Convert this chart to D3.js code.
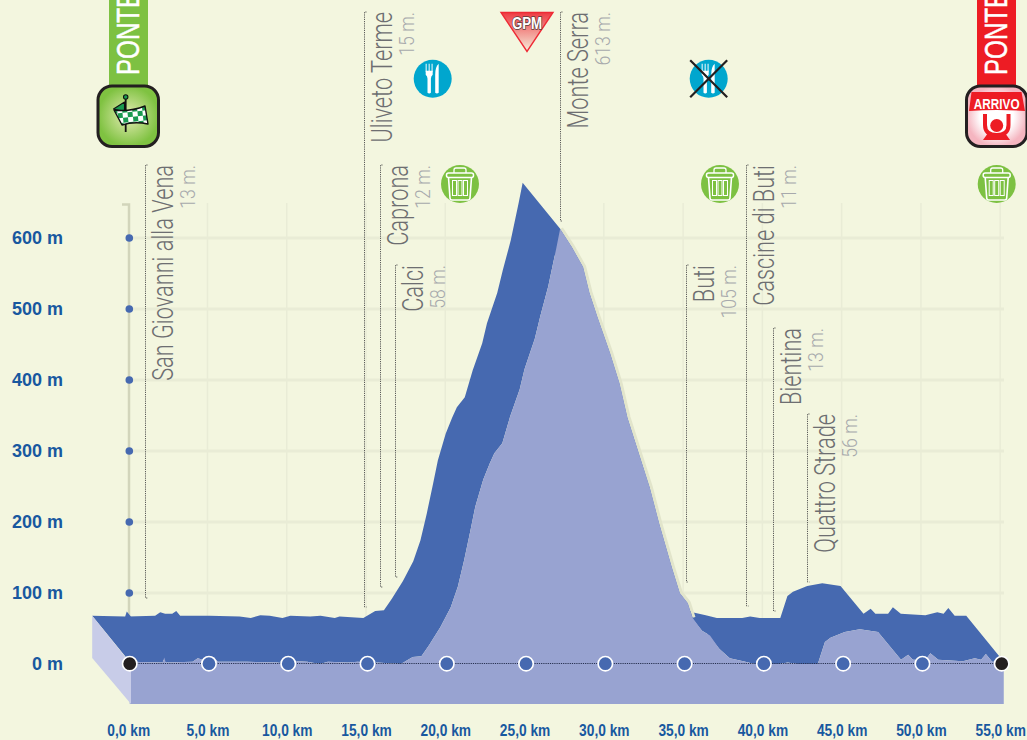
<!DOCTYPE html>
<html>
<head>
<meta charset="utf-8">
<script src="https://d3js.org/d3.v7.min.js"></script>
<style>
html,body{margin:0;padding:0;background:#f3f6df;overflow:hidden}
svg{display:block}
</style>
</head>
<body>
<div id="my_dataviz"></div>
<script>
// profile readings
var kmValues = [0,2.08,2.18,2.27,3.97,4.29,4.6,5.05,5.3,5.55,7.4,9.3,10,10.6,11.2,12,12.5,13.75,14.4,15.3,15.6,17.1,17.85,18.4,18.9,19.6,20.25,20.7,21.1,21.5,21.8,22.3,22.7,23,23.5,24,24.6,24.9,25.55,25.9,26.4,26.9,27.15,27.9,28.6,29,29.5,30.3,30.9,31.4,32.2,32.8,33.4,34.2,34.7,35.2,35.5,36.1,36.6,37.2,37.85,38.7,39.4,41,41.5,42.1,43.4,43.85,44.2,45.1,46.05,47.2,48.65,49.1,49.4,50.2,50.5,51,52.55,53.3,53.7,54,54.4,55,55.13];
var elevation = [3,2,9,2,3,8,6,6,10,3,3,2,0,4,3,0,3,2,3,0,2,0,10,11,27,52,80,109,147,189,222,260,282,297,311,349,387,415,458,490,532,585,613,587,559,523,489,438,395,347,291,249,198,136,100,86,65,47,40,21,8,4,0,0,2,0,0,31,37,45,49,45,6,13,6,6,15,6,4,8,6,14,3,3,3];

var kmTicks = [0,5,10,15,20,25,30,35,40,45,50,55];
var altTicks = [0,100,200,300,400,500,600];

var placeNames = ["San Giovanni alla Vena","Uliveto Terme","Caprona","Calci","Monte Serra","Buti","Cascine di Buti","Bientina","Quattro Strade"];
var placeAlts = ["13 m.","15 m.","12 m.","58 m.","613 m.","105 m.","11 m.","13 m.","56 m."];
var placeKm = [0.97,14.79,15.8,16.75,27.15,35.1,38.87,40.55,42.75];
var placeTop = [165,12,165,265,12,265,165,328,414];
var placeBottom = [598,607,587,577,221,582,606,611,582];

var width = 1027, height = 740;
var DARK = "#4669b0", LIGHT = "#98a3d1", SIDE = "#c8cce8", GRID = "#e9ecd6", BLUE = "#18589f";
var backDx = -37.5, backDy = -46, baseY = 704;

var x = d3.scaleLinear().domain([0,55]).range([129.7,1001.7]);
var y = d3.scaleLinear().domain([0,600]).range([664,238]);

var svg = d3.select("#my_dataviz").append("svg").attr("width", width).attr("height", height);
svg.append("rect").attr("width", width).attr("height", height).attr("fill", "#f3f6df");
var defs = svg.append("defs");

// grid
svg.append("g").selectAll("line").data(altTicks.slice(1)).enter().append("line")
    .attr("x1", x(0)).attr("x2", 1004)
    .attr("y1", function(d){return y(d)}).attr("y2", function(d){return y(d)})
    .attr("stroke", GRID).attr("stroke-width", 3);
svg.append("g").selectAll("line").data(kmTicks.slice(1)).enter().append("line")
    .attr("x1", function(d){return x(d)-1.5}).attr("x2", function(d){return x(d)-1.5})
    .attr("y1", 203).attr("y2", y(0))
    .attr("stroke", GRID).attr("stroke-width", 1.5);

// y axis stem
svg.append("path").attr("d", "M122,204.5H129V620").attr("fill", "none").attr("stroke", "#d2d5bb").attr("stroke-width", 2.5);
svg.append("g").selectAll("circle").data(altTicks.slice(1)).enter().append("circle")
    .attr("cx", 129.3).attr("cy", function(d){return y(d)}).attr("r", 3.8).attr("fill", DARK);

// leaders
var leaders = svg.append("g");
placeNames.forEach(function(name, i){
    var lx = Math.round(x(placeKm[i]))+0.5;
    leaders.append("path")
        .attr("d", "M"+(lx+2)+","+placeTop[i]+"H"+lx+"V"+placeBottom[i]+"H"+(lx+2))
        .attr("fill", "none").attr("stroke", "#4a4a4a").attr("stroke-width", 0.9).attr("stroke-dasharray", "1.2 1");
    leaders.append("text").text(name)
        .attr("transform", "translate("+(lx+27)+","+placeTop[i]+") rotate(-90) scale(0.75,1)")
        .attr("text-anchor", "end").attr("font-family", "Roboto").attr("font-weight", 300)
        .attr("font-size", 29).attr("fill", "#6d6e71");
    leaders.append("text").text(placeAlts[i])
        .attr("transform", "translate("+(lx+49.5)+","+placeTop[i]+") rotate(-90) scale(0.84,1)")
        .attr("text-anchor", "end").attr("font-family", "Roboto").attr("font-weight", 300)
        .attr("font-size", 21).attr("fill", "#a7a9ac");
});

// profile: extruded top face, all quads in one path so no seams show
var points = kmValues.map(function(k,i){return [x(k), y(elevation[i])]});
var topFace = d3.pairs(points).map(function(d){
    var quad = [d[0], d[1], [d[1][0]+backDx, d[1][1]+backDy], [d[0][0]+backDx, d[0][1]+backDy]];
    if(d3.polygonArea(quad)<0) quad.reverse();
    return d3.line()(quad)+"Z";
}).join("");
svg.append("path").attr("d", topFace).attr("fill", DARK);

// pale rim on the descent
var descent = points.filter(function(p,i){return kmValues[i]>=27.15 && kmValues[i]<=35.5});
svg.append("path").attr("d", d3.line()(descent)).attr("transform", "translate(1.5,-0.5)")
    .attr("fill", "none").attr("stroke", "#e2e5cb").attr("stroke-width", 3);

// front and side faces
var frontArea = d3.area().x(function(d){return d[0]}).y0(baseY).y1(function(d){return d[1]});
svg.append("path").attr("d", frontArea(points)).attr("fill", LIGHT);
var sideTop = points[0];
svg.append("path")
    .attr("d", d3.line()([[sideTop[0]+1.3,y(0)],[sideTop[0]+backDx,sideTop[1]+backDy],[sideTop[0]+backDx,baseY+backDy],[sideTop[0]+1.3,baseY]])+"Z")
    .attr("fill", SIDE);

// zero line and km markers
svg.append("line").attr("x1", x(0)).attr("x2", x(55)).attr("y1", y(0)-0.5).attr("y2", y(0)-0.5)
    .attr("stroke", "#27304f").attr("stroke-width", 1).attr("stroke-dasharray", "1.2 1");
svg.append("g").selectAll("circle").data(kmTicks).enter().append("circle")
    .attr("cx", function(d){return x(d)}).attr("cy", y(0)-0.3).attr("r", 7.2)
    .attr("fill", function(d){return (d==0||d==55) ? "#231f20" : DARK})
    .attr("stroke", "#fff").attr("stroke-width", 1.6);

// axes
var axisX = svg.append("g").attr("transform", "translate(-1.5,721)")
    .call(d3.axisBottom(x).tickValues(kmTicks).tickSize(0).tickFormat(function(d){return d+",0 km"}));
axisX.select(".domain").remove();
axisX.selectAll("text").attr("y", 0).attr("dy", "0.95em").attr("font-family", "Liberation Sans").attr("font-weight", 700)
    .attr("font-size", 16).attr("fill", BLUE).attr("transform", "scale(0.86,1)");

var axisY = svg.append("g").attr("transform", "translate(63,0)")
    .call(d3.axisLeft(y).tickValues(altTicks).tickSize(0).tickFormat(function(d){return d+" m"}));
axisY.select(".domain").remove();
axisY.selectAll("text").attr("x", 0).attr("font-family", "Liberation Sans").attr("font-weight", 700)
    .attr("font-size", 18).attr("fill", BLUE);

// start and finish banners
function banner(bx, color){
    svg.append("rect").attr("x", bx).attr("y", 0).attr("width", 39).attr("height", 90).attr("fill", color);
    svg.append("text").text("PONTE")
        .attr("transform", "translate("+(bx+30)+",75) rotate(-90) scale(0.78,1)")
        .attr("font-family", "Liberation Sans").attr("font-size", 31).attr("fill", "#fff")
        .attr("stroke", "#fff").attr("stroke-width", 0.5);
}
banner(109, "#7dc142");
banner(977, "#ed1c24");

var greenGrad = defs.append("radialGradient").attr("id", "startGrad");
greenGrad.append("stop").attr("offset", "0%").attr("stop-color", "#e4ecb4");
greenGrad.append("stop").attr("offset", "100%").attr("stop-color", "#7fc241");
var redGrad = defs.append("radialGradient").attr("id", "endGrad");
redGrad.append("stop").attr("offset", "55%").attr("stop-color", "#ffffff");
redGrad.append("stop").attr("offset", "100%").attr("stop-color", "#f5b5c0");
var gpmGrad = defs.append("linearGradient").attr("id", "gpmGrad").attr("x1", 0).attr("x2", 0).attr("y1", 0).attr("y2", 1);
gpmGrad.append("stop").attr("offset", "0%").attr("stop-color", "#ee3b43");
gpmGrad.append("stop").attr("offset", "100%").attr("stop-color", "#f6efdc");
var check = defs.append("pattern").attr("id", "checker").attr("patternUnits", "userSpaceOnUse")
    .attr("width", 10).attr("height", 10).attr("patternTransform", "rotate(-6)");
check.append("rect").attr("width", 10).attr("height", 10).attr("fill", "#fff");
check.append("rect").attr("width", 5).attr("height", 5).attr("fill", "#1a9a50");
check.append("rect").attr("x", 5).attr("y", 5).attr("width", 5).attr("height", 5).attr("fill", "#1a9a50");

// start icon
svg.append("rect").attr("x", 98).attr("y", 86).attr("width", 60.5).attr("height", 60.5).attr("rx", 14)
    .attr("fill", "url(#startGrad)").attr("stroke", "#231f20").attr("stroke-width", 3);
var flag = svg.append("g").attr("stroke", "#111").attr("stroke-linejoin", "round");
flag.append("line").attr("x1", 125.7).attr("x2", 125.7).attr("y1", 98).attr("y2", 132).attr("stroke-width", 1.8);
flag.append("circle").attr("cx", 125.7).attr("cy", 97).attr("r", 2.2).attr("fill", "#1a9a50").attr("stroke-width", 1.1);
flag.append("path").attr("d", "M113.5,109L124.5,102V112Z").attr("fill", "#1a9a50").attr("stroke-width", 1.1);
flag.append("path").attr("d", "M114,110Q130,112 145,106L148,124Q134,121 122,125Z").attr("fill", "url(#checker)").attr("stroke-width", 1.4);

// finish icon
svg.append("rect").attr("x", 966.5).attr("y", 86).attr("width", 60.5).attr("height", 60.5).attr("rx", 14)
    .attr("fill", "url(#endGrad)").attr("stroke", "#231f20").attr("stroke-width", 3);
svg.append("path").attr("d", "M971.5,92H1021.5L1025,111Q997,109 969,111Z").attr("fill", "#ed1c24");
svg.append("text").text("ARRIVO").attr("transform", "translate(996.7,109) scale(0.84,1)").attr("text-anchor", "middle")
    .attr("font-family", "Liberation Sans").attr("font-weight", 700).attr("font-size", 14).attr("fill", "#fff");
svg.append("path").attr("d", "M985,114V125Q985,135 996.7,135Q1008.5,135 1008.5,125V114")
    .attr("fill", "none").attr("stroke", "#ed1c24").attr("stroke-width", 4);
svg.append("circle").attr("cx", 996.7).attr("cy", 125.5).attr("r", 6.5).attr("fill", "#ed1c24");
svg.append("path").attr("d", "M983,140L988,133H1005L1010,140Z").attr("fill", "#ed1c24");

// GPM marker
svg.append("path").attr("d", "M501,12.5H553L527,51.5Z").attr("fill", "url(#gpmGrad)").attr("stroke", "#ee2a35").attr("stroke-width", 1.4);
svg.append("text").text("GPM").attr("transform", "translate(527,29) scale(0.78,1)").attr("text-anchor", "middle")
    .attr("font-family", "Liberation Sans").attr("font-weight", 700).attr("font-size", 17)
    .attr("fill", "#fff").attr("stroke", "#5a3a3a").attr("stroke-width", 1.6).attr("paint-order", "stroke");

// food stops
function foodIcon(cx, cy, crossed){
    var g = svg.append("g").attr("transform", "translate("+cx+","+cy+")");
    g.append("circle").attr("r", 19).attr("fill", "#00a6ce");
    g.append("path").attr("d", "M-6.5,-15V-7M-3.5,-15V-7M-0.6,-15V-7").attr("stroke", "#bfe9f3").attr("stroke-width", 1.3);
    g.append("path").attr("d", "M-7,-8H0V-4Q-1.8,-2.5 -1.8,0V14Q-3.5,15.5 -5.2,14V0Q-5.2,-2.5 -7,-4Z").attr("fill", "#fff");
    g.append("path").attr("d", "M2.5,14V-4Q2.5,-12 6,-15V14Q4.2,15.5 2.5,14Z").attr("fill", "#fff");
    if(crossed){
        g.append("path").attr("d", "M-18.5,-18.5L18.5,18.5M18.5,-18.5L-18.5,18.5").attr("stroke", "#231f20").attr("stroke-width", 2.2);
    }
}
foodIcon(432.7, 78.7, false);
foodIcon(708.7, 78.7, true);

// waste zones
function wasteIcon(cx, cy){
    var g = svg.append("g").attr("transform", "translate("+cx+","+cy+")")
        .attr("fill", "none").attr("stroke", "#fff").attr("stroke-width", 1.3);
    g.append("circle").attr("r", 19).attr("fill", "#7dc142").attr("stroke", "none");
    g.append("path").attr("d", "M-6,-11V-14Q-6,-16 -4,-16H4Q6,-16 6,-14V-11");
    g.append("rect").attr("x", -13.5).attr("y", -11).attr("width", 27).attr("height", 4.5).attr("rx", 2).attr("stroke-width", 1.5);
    g.append("path").attr("d", "M-11.5,-6.5L-10,14Q-9.8,16 -8,16H8Q9.8,16 10,14L11.5,-6.5").attr("stroke-width", 1.6);
    [-7.5,-2,3.5].forEach(function(s){
        g.append("rect").attr("x", s).attr("y", -3.5).attr("width", 4).attr("height", 15).attr("stroke-width", 1);
    });
}
wasteIcon(460, 184);
wasteIcon(720, 184);
wasteIcon(996.7, 184);
</script>
</body>
</html>
